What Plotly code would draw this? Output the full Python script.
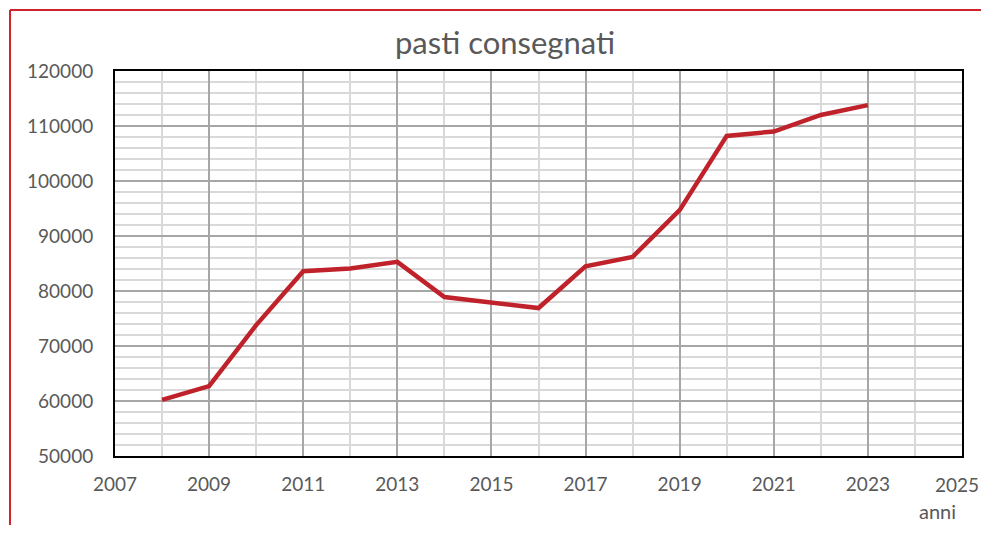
import plotly.graph_objects as go

# data
anni = [2008, 2009, 2010, 2011, 2012, 2013, 2014, 2015,
        2016, 2017, 2018, 2019, 2020, 2021, 2022, 2023]
pasti = [60200, 62700, 73800, 83600, 84100, 85300, 78900, 78000,
         76900, 84500, 86200, 94700, 108200, 109000, 112000, 113800]
x_ticks = [2007, 2009, 2011, 2013, 2015, 2017, 2019, 2021, 2023, 2025]

font_family = "Lato, 'Open Sans', sans-serif"
grey_text = "#595959"
tick_font = dict(family=font_family, size=19, color=grey_text)

# the page body has an 8px margin, so the figure is a bit smaller than the window
off = 8
W, H = 989 - 2 * off, 533 - 2 * off
L, R, T, B = 115 - off, 962 - off, 71 - off, 456 - off   # plot box in figure px

fig = go.Figure()
fig.add_trace(go.Scatter(
    x=anni, y=pasti, mode="lines",
    line=dict(color="#C0222B", width=4.5),
    hoverinfo="x+y", showlegend=False,
))

axis_common = dict(
    showline=True, linecolor="black", linewidth=2, mirror=True,
    ticks="", zeroline=False, automargin=False,
    showgrid=True, gridcolor="#A6A6A6", gridwidth=2,
    tickfont=tick_font,
)

fig.update_layout(
    width=W, height=H,
    paper_bgcolor="white", plot_bgcolor="white",
    margin=dict(l=L, r=W - R, t=T, b=H - B, autoexpand=False),
    title=dict(text="pasti consegnati", x=(505 - off) / W, xref="container", xanchor="center",
               y=1 - (43 - off) / H, yref="container", yanchor="middle",
               font=dict(family=font_family, size=31, color=grey_text)),
    xaxis=dict(range=[x_ticks[0], x_ticks[-1]], tickvals=x_ticks[:-1],
               ticklabelstandoff=10,
               minor=dict(dtick=1, showgrid=True, gridcolor="#D9D9D9", gridwidth=2),
               **axis_common),
    yaxis=dict(range=[50000, 120000], dtick=10000, tickformat="d",
               ticklabelstandoff=16,
               minor=dict(dtick=2000, showgrid=True, gridcolor="#D9D9D9", gridwidth=2),
               **axis_common),
)

# last x tick label sits at the very edge of the picture: pin it inside the figure
fig.add_annotation(text=str(x_ticks[-1]), xref="paper", yref="paper",
                   x=(W - 1 - L) / (R - L), y=(456 - 484) / (B - T),
                   xanchor="right", yanchor="middle", showarrow=False, borderpad=0,
                   font=tick_font)

# axis label "anni" bottom right
fig.add_annotation(text="anni", xref="paper", yref="paper",
                   x=(937 - 115) / (R - L), y=(456 - 511) / (B - T),
                   xanchor="center", yanchor="middle", showarrow=False, borderpad=0,
                   font=dict(family=font_family, size=20, color=grey_text))

# red frame (only top and left edges are visible in the crop)
bx = (10 - 115) / (R - L)
by = (456 - 10) / (B - T)
fig.add_shape(type="line", xref="paper", yref="paper",
              x0=bx, y0=by, x1=1.2, y1=by, line=dict(color="#D0242C", width=2))
fig.add_shape(type="line", xref="paper", yref="paper",
              x0=bx, y0=by, x1=bx, y1=-0.5, line=dict(color="#D0242C", width=2))

fig.write_html("out.html")
